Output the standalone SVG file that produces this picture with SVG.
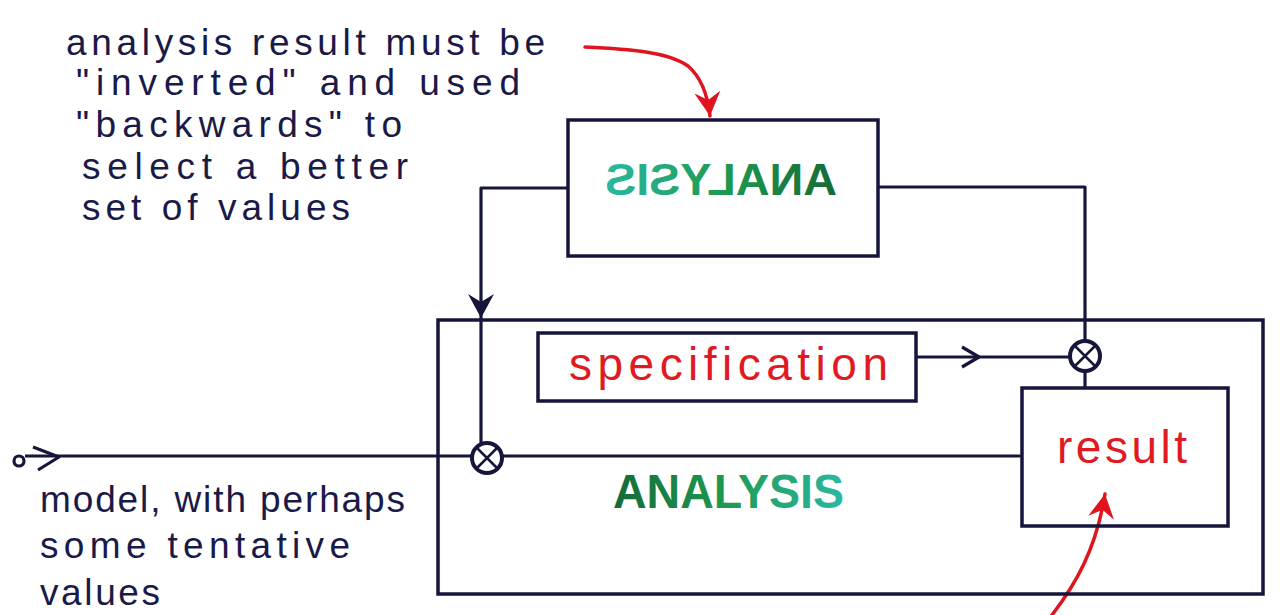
<svg xmlns="http://www.w3.org/2000/svg" width="1286" height="615" viewBox="0 0 1286 615">
<style>
.box{fill:none;stroke:#16163c;stroke-width:3.5}
.wire{fill:none;stroke:#16163c;stroke-width:3.2;stroke-linejoin:round}
.red{fill:none;stroke:#e0141e;stroke-width:3.5;stroke-linecap:round}
.note{font-family:"Liberation Sans",Arial,sans-serif;font-size:37px;fill:#1a1a48}
.redt{font-family:"Liberation Sans",Arial,sans-serif;font-size:46px;fill:#e01a22}
.big{font-family:"Liberation Sans",Arial,sans-serif;font-weight:bold;fill:url(#g)}
.mult circle{fill:#fff;stroke:#16163c;stroke-width:4}
.mult path{stroke:#16163c;stroke-width:2.5}
</style>
<defs>
<linearGradient id="g" x1="0" y1="0" x2="1" y2="0">
<stop offset="0" stop-color="#146b38"/>
<stop offset="0.5" stop-color="#1e9a52"/>
<stop offset="1" stop-color="#2ab8a2"/>
</linearGradient>
<marker id="navyHead" markerWidth="12" markerHeight="14" refX="10" refY="7" orient="auto" markerUnits="userSpaceOnUse" viewBox="0 0 12 14" overflow="visible">
<path d="M-14,-6 L10,7 L-14,20 L-6,7 Z" fill="#16163c"/>
</marker>
<marker id="redHead" markerWidth="12" markerHeight="14" refX="10" refY="7" orient="auto" markerUnits="userSpaceOnUse" viewBox="0 0 12 14" overflow="visible">
<path d="M-14,-6 L10,7 L-14,20 L-6,7 Z" fill="#e0141e"/>
</marker>
</defs>
<rect width="1286" height="615" fill="#fff"/>

<g id="connectors">
<path class="wire" d="M568,188 H481 V318" marker-end="url(#navyHead)"/>
<path class="wire" d="M481,318 V444"/>
<path class="wire" d="M878,187 H1085 V341"/>
<path class="wire" d="M915,357 H1070"/>
<polyline class="wire" points="962,347 979,357 962,367"/>
<path class="wire" d="M1085,371 V388"/>
<path class="wire" d="M25,456 H472 M502,456 H1022"/>
<circle cx="19" cy="461" r="5" class="wire"/>
<polyline class="wire" points="33,447 59,457 38,470"/>
<path class="red" d="M585,47 C630,49 668,52 688,66 C702,78 708,98 710,116" marker-end="url(#redHead)"/>
<path class="red" d="M1052,615 C1075,585 1096,550 1105,494" marker-end="url(#redHead)"/>
</g>

<g id="analysis-outer">
<rect class="box" x="438" y="320" width="825" height="274"/>
<text class="big" x="613" y="508" font-size="48" textLength="231" lengthAdjust="spacingAndGlyphs">ANALYSIS</text>
</g>

<g id="analysis-inverted">
<rect class="box" x="568" y="120" width="310" height="136"/>
<text class="big" x="605" y="195" font-size="44" textLength="232" lengthAdjust="spacingAndGlyphs" transform="matrix(-1 0 0 1 1442 0)">ANALYSIS</text>
</g>

<g id="specification">
<rect class="box" x="538" y="333" width="378" height="68"/>
<text class="redt" x="569" y="380" textLength="319" lengthAdjust="spacing">specification</text>
</g>

<g id="result">
<rect class="box" x="1022" y="388" width="206" height="138"/>
<text class="redt" x="1057" y="463" textLength="130" lengthAdjust="spacing">result</text>
</g>

<g id="mult-left" class="mult">
<circle cx="487" cy="458" r="15"/>
<path d="M476.5,447.5 L497.5,468.5 M497.5,447.5 L476.5,468.5"/>
</g>

<g id="mult-right" class="mult">
<circle cx="1085" cy="356" r="15"/>
<path d="M1074.5,345.5 L1095.5,366.5 M1095.5,345.5 L1074.5,366.5"/>
</g>

<g id="note-top">
<text class="note" x="66" y="55" textLength="479" lengthAdjust="spacing">analysis result must be</text>
<text class="note" x="76" y="95" textLength="444" lengthAdjust="spacing">"inverted" and used</text>
<text class="note" x="76" y="137" textLength="326" lengthAdjust="spacing">"backwards" to</text>
<text class="note" x="82" y="179" textLength="326" lengthAdjust="spacing">select a better</text>
<text class="note" x="82" y="220" textLength="268" lengthAdjust="spacing">set of values</text>
</g>

<g id="note-bottom">
<text class="note" x="40" y="512" textLength="365" lengthAdjust="spacing">model, with perhaps</text>
<text class="note" x="40" y="558" textLength="310" lengthAdjust="spacing">some tentative</text>
<text class="note" x="40" y="605" textLength="120" lengthAdjust="spacing">values</text>
</g>
</svg>
